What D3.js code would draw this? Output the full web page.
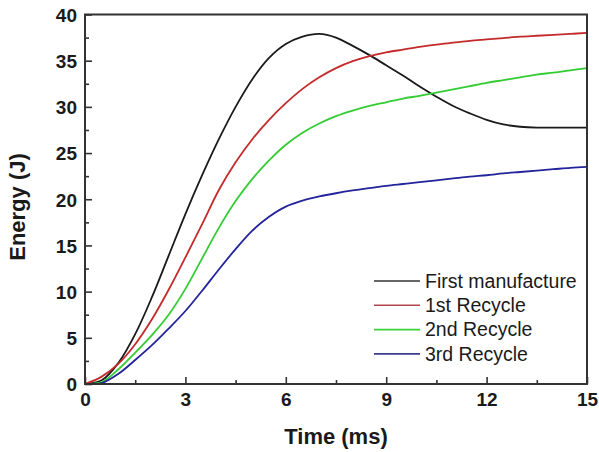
<!DOCTYPE html>
<html>
<head>
<meta charset="utf-8">
<script src="https://cdn.jsdelivr.net/npm/d3@7"></script>
<style>
  html, body { margin: 0; padding: 0; background: #fff; }
  svg { display: block; font-family: "Liberation Sans", Arial, sans-serif; }
</style>
</head>
<body>
<div id="chart"></div>
<script>
// time axis (ms)
let times = [0, 0.5, 1, 1.5, 2, 2.5, 3, 3.5, 4, 4.5, 5, 5.5, 6, 6.5, 7, 7.5,
  8, 8.5, 9, 9.5, 10, 10.5, 11, 11.5, 12, 12.5, 13, 13.5, 14, 14.5, 15];

// energy (J)
let firstManufacture = [0, 0.4, 2.3, 5.4, 9.4, 13.9, 18.4, 22.6, 26.5, 30.0, 33.0,
  35.3, 36.8, 37.6, 37.9, 37.5, 36.6, 35.6, 34.5, 33.4, 32.2, 31.1, 30.1, 29.3,
  28.6, 28.1, 27.85, 27.75, 27.75, 27.75, 27.75];
let recycle1 = [0, 0.8, 2.2, 4.3, 7.0, 10.2, 13.7, 17.3, 21.0, 24.0, 26.5, 28.6,
  30.4, 31.95, 33.2, 34.2, 34.95, 35.5, 35.9, 36.2, 36.5, 36.75, 36.95, 37.15, 37.3,
  37.45, 37.6, 37.7, 37.8, 37.9, 38.0];
let recycle2 = [0, 0.2, 1.6, 3.4, 5.3, 7.5, 10.3, 13.6, 16.9, 19.8, 22.2, 24.2,
  25.9, 27.2, 28.2, 29.0, 29.6, 30.1, 30.5, 30.9, 31.2, 31.55, 31.9, 32.25, 32.6,
  32.9, 33.2, 33.5, 33.7, 33.95, 34.2];
let recycle3 = [0, 0.1, 1.1, 2.6, 4.2, 6.0, 7.9, 10.1, 12.4, 14.6, 16.6, 18.1,
  19.2, 19.85, 20.3, 20.65, 20.95, 21.2, 21.45, 21.65, 21.85, 22.05, 22.25, 22.45,
  22.6, 22.8, 22.95, 23.1, 23.25, 23.4, 23.5];

let seriesNames = ["First manufacture", "1st Recycle", "2nd Recycle", "3rd Recycle"];
let seriesValues = [firstManufacture, recycle1, recycle2, recycle3];
let seriesColors = ["#1a1a1a", "#c42a2a", "#33cc33", "#23239c"];
let legendColors = ["#333333", "#b5454f", "#3ad13a", "#3d3d8a"];

let xTicks = [0, 3, 6, 9, 12, 15];
let xMinor = [1.5, 4.5, 7.5, 10.5, 13.5];
let yTicks = [0, 5, 10, 15, 20, 25, 30, 35, 40];
let yMinor = [2.5, 7.5, 12.5, 17.5, 22.5, 27.5, 32.5, 37.5];

let width = 599, height = 452;
let margin = { top: 14.5, right: 12, bottom: 68, left: 85 };
let plotW = width - margin.left - margin.right;
let plotH = height - margin.top - margin.bottom;

let svg = d3.select("#chart").append("svg")
  .attr("width", width)
  .attr("height", height);

let x = d3.scaleLinear().domain([0, 15]).range([0, plotW]);
let y = d3.scaleLinear().domain([0, 40]).range([plotH, 0]);

let g = svg.append("g")
  .attr("transform", `translate(${margin.left},${margin.top})`);

// minor ticks
g.append("g")
  .attr("transform", `translate(0,${plotH})`)
  .call(d3.axisBottom(x).tickValues(xMinor).tickFormat("").tickSize(-4).tickSizeOuter(0))
  .call(a => a.select(".domain").remove());
g.append("g")
  .call(d3.axisLeft(y).tickValues(yMinor).tickFormat("").tickSize(-4).tickSizeOuter(0))
  .call(a => a.select(".domain").remove());

// major ticks
let xAxis = g.append("g")
  .attr("transform", `translate(0,${plotH})`)
  .call(d3.axisBottom(x).tickValues(xTicks).tickFormat(d3.format("d"))
    .tickSize(-7).tickSizeOuter(0).tickPadding(9));
let yAxis = g.append("g")
  .call(d3.axisLeft(y).tickValues(yTicks).tickFormat(d3.format("d"))
    .tickSize(-7).tickSizeOuter(0).tickPadding(8));

g.selectAll(".tick line").attr("stroke", "#333").attr("stroke-width", 1.6);
[xAxis, yAxis].forEach(a => {
  a.select(".domain").remove();
  a.selectAll("text")
    .attr("font-family", "'Liberation Sans', Arial, sans-serif")
    .attr("font-size", 19)
    .attr("font-weight", "bold")
    .attr("fill", "#1a1a1a");
});
yAxis.selectAll("text").attr("dy", "0.36em");

// curves
let line = d3.line()
  .x((d, i) => x(times[i]))
  .y(d => y(d))
  .curve(d3.curveCatmullRom.alpha(0.5));

seriesValues.forEach((vals, k) => {
  g.append("path")
    .datum(vals)
    .attr("fill", "none")
    .attr("stroke", seriesColors[k])
    .attr("stroke-width", 1.8)
    .attr("d", line);
});

// frame
g.append("rect")
  .attr("x", 0).attr("y", 0)
  .attr("width", plotW).attr("height", plotH)
  .attr("fill", "none")
  .attr("stroke", "#333")
  .attr("stroke-width", 2);

// legend
let legend = svg.append("g").attr("transform", "translate(374,281)");
seriesNames.forEach((name, k) => {
  let row = legend.append("g").attr("transform", `translate(0,${k * 24.3})`);
  row.append("line")
    .attr("x1", 0).attr("x2", 46)
    .attr("stroke", legendColors[k])
    .attr("stroke-width", 1.6);
  row.append("text")
    .attr("x", 51)
    .attr("dy", "0.35em")
    .attr("font-size", 19.5)
    .attr("fill", "#1a1a1a")
    .text(name);
});

// axis titles
svg.append("text")
  .attr("x", margin.left + plotW / 2)
  .attr("y", 444)
  .attr("text-anchor", "middle")
  .attr("font-size", 22)
  .attr("font-weight", "bold")
  .attr("fill", "#1a1a1a")
  .text("Time (ms)");

svg.append("text")
  .attr("transform", "translate(25,207) rotate(-90)")
  .attr("text-anchor", "middle")
  .attr("font-size", 22)
  .attr("font-weight", "bold")
  .attr("fill", "#1a1a1a")
  .text("Energy (J)");
</script>
</body>
</html>
